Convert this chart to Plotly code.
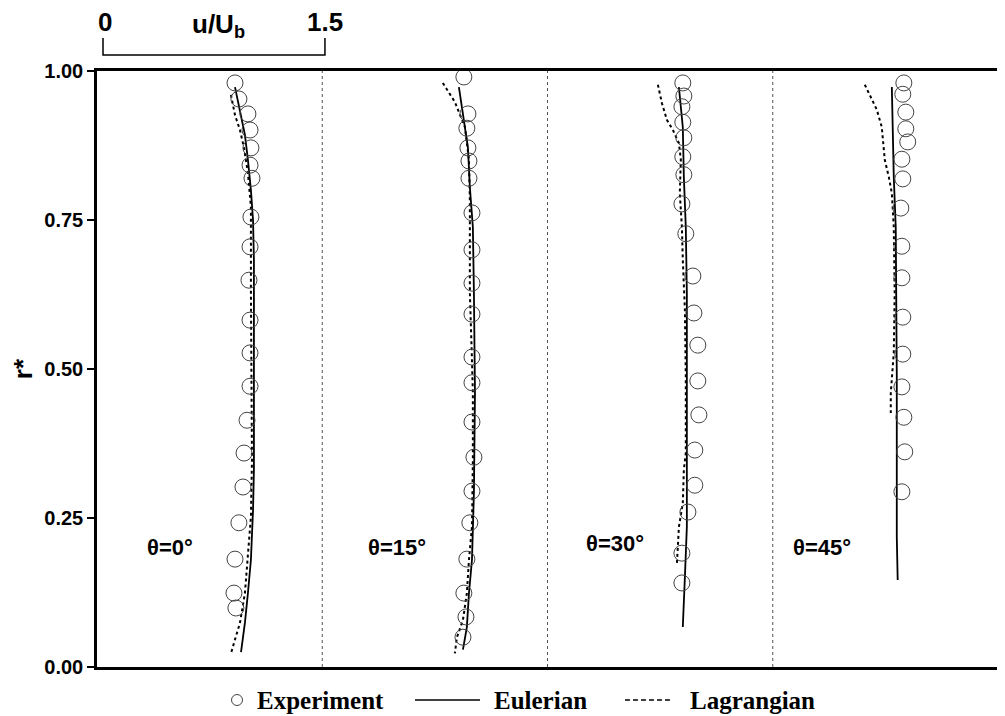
import plotly.graph_objects as go

# Panel labels and angular positions
panels = ["θ=0°", "θ=15°", "θ=30°", "θ=45°"]
panel_width = 1.5  # each panel spans u/Ub from 0 to 1.5

# ---- theta = 0 ----
exp0_u = [0.919, 0.945, 1.005, 1.019, 1.025, 1.019, 1.032, 1.025, 1.019, 1.012,
          1.019, 1.019, 1.019, 0.999, 0.979, 0.972, 0.945, 0.919, 0.912, 0.925]
exp0_r = [0.980, 0.953, 0.928, 0.901, 0.871, 0.842, 0.820, 0.755, 0.705, 0.649,
          0.582, 0.527, 0.471, 0.414, 0.359, 0.302, 0.242, 0.181, 0.124, 0.099]
eul0_u = [0.919, 0.952, 0.985, 1.005, 1.025, 1.039, 1.045, 1.045, 1.045, 1.045,
          1.039, 1.025, 1.005, 0.985, 0.959]
eul0_r = [0.973, 0.935, 0.893, 0.851, 0.800, 0.750, 0.683, 0.582, 0.448, 0.331,
          0.263, 0.180, 0.124, 0.074, 0.025]
lag0_u = [0.892, 0.919, 0.952, 0.979, 1.005, 1.025, 1.025, 1.032, 1.032, 1.025,
          1.005, 0.985, 0.952, 0.892]
lag0_r = [0.960, 0.926, 0.901, 0.871, 0.829, 0.772, 0.628, 0.460, 0.347, 0.252,
          0.180, 0.124, 0.074, 0.023]

# ---- theta = 15 ----
exp15_u = [0.943, 0.970, 0.963, 0.970, 0.977, 0.977, 0.997, 0.997, 0.997, 0.997,
           0.997, 0.997, 0.997, 1.010, 0.997, 0.983, 0.963, 0.943, 0.957, 0.937]
exp15_r = [0.990, 0.928, 0.904, 0.871, 0.849, 0.820, 0.762, 0.700, 0.644, 0.592,
           0.520, 0.477, 0.411, 0.352, 0.295, 0.242, 0.181, 0.124, 0.084, 0.050]
eul15_u = [0.910, 0.937, 0.970, 0.983, 1.003, 1.010, 1.017, 1.010, 1.003, 0.997,
           0.977, 0.963, 0.937]
eul15_r = [0.973, 0.930, 0.872, 0.805, 0.738, 0.628, 0.460, 0.292, 0.235, 0.180,
           0.124, 0.067, 0.029]
lag15_u = [0.803, 0.883, 0.950, 0.977, 0.983, 0.983, 0.997, 1.003, 1.003, 0.997,
           0.977, 0.963, 0.937, 0.897, 0.883]
lag15_r = [0.980, 0.948, 0.906, 0.851, 0.784, 0.628, 0.515, 0.460, 0.347, 0.235,
           0.180, 0.124, 0.079, 0.050, 0.023]

# ---- theta = 30 ----
exp30_u = [0.901, 0.908, 0.895, 0.901, 0.908, 0.901, 0.908, 0.895, 0.921, 0.968,
           0.975, 1.001, 1.001, 1.008, 0.981, 0.981, 0.935, 0.895, 0.895]
exp30_r = [0.980, 0.958, 0.940, 0.914, 0.888, 0.856, 0.826, 0.777, 0.727, 0.656,
           0.594, 0.540, 0.480, 0.423, 0.364, 0.305, 0.260, 0.191, 0.141]
eul30_u = [0.875, 0.901, 0.908, 0.921, 0.928, 0.928, 0.928, 0.928, 0.915, 0.901]
eul30_r = [0.973, 0.906, 0.822, 0.738, 0.628, 0.487, 0.347, 0.235, 0.151, 0.067]
lag30_u = [0.735, 0.762, 0.795, 0.835, 0.875, 0.888, 0.881, 0.895, 0.901, 0.915,
           0.921, 0.921, 0.908, 0.901, 0.875, 0.862]
lag30_r = [0.977, 0.946, 0.918, 0.901, 0.879, 0.851, 0.795, 0.738, 0.683, 0.599,
           0.487, 0.359, 0.331, 0.275, 0.235, 0.174]

# ---- theta = 45 ----
exp45_u = [0.873, 0.866, 0.886, 0.886, 0.899, 0.860, 0.866, 0.853, 0.860, 0.860,
           0.866, 0.866, 0.860, 0.873, 0.879, 0.860]
exp45_r = [0.980, 0.961, 0.931, 0.903, 0.881, 0.852, 0.819, 0.770, 0.706, 0.653,
           0.587, 0.525, 0.470, 0.419, 0.361, 0.294]
eul45_u = [0.793, 0.799, 0.806, 0.819, 0.826, 0.826, 0.832]
eul45_r = [0.973, 0.906, 0.822, 0.738, 0.487, 0.218, 0.146]
lag45_u = [0.613, 0.653, 0.693, 0.726, 0.746, 0.773, 0.793, 0.806, 0.812, 0.806,
           0.793, 0.786, 0.786]
lag45_r = [0.977, 0.956, 0.935, 0.906, 0.851, 0.822, 0.795, 0.738, 0.628, 0.527,
           0.487, 0.460, 0.426]

exp_u = [exp0_u, exp15_u, exp30_u, exp45_u]
exp_r = [exp0_r, exp15_r, exp30_r, exp45_r]
eul_u = [eul0_u, eul15_u, eul30_u, eul45_u]
eul_r = [eul0_r, eul15_r, eul30_r, eul45_r]
lag_u = [lag0_u, lag15_u, lag30_u, lag45_u]
lag_r = [lag0_r, lag15_r, lag30_r, lag45_r]

y_ticks = [0.0, 0.25, 0.5, 0.75, 1.0]
y_ticklabels = ["0.00", "0.25", "0.50", "0.75", "1.00"]

ARIAL = "Arial, Liberation Sans, sans-serif"
TIMES = "Times New Roman, Liberation Serif, serif"

fig = go.Figure()

for i in range(4):
    off = i * panel_width
    fig.add_trace(go.Scatter(
        x=[u + off for u in eul_u[i]], y=eul_r[i], mode="lines",
        line=dict(color="black", width=1.8), name="Eulerian", showlegend=False))
    fig.add_trace(go.Scatter(
        x=[u + off for u in lag_u[i]], y=lag_r[i], mode="lines",
        line=dict(color="black", width=2, dash="3px,3px"), name="Lagrangian",
        showlegend=False))
    fig.add_trace(go.Scatter(
        x=[u + off for u in exp_u[i]], y=exp_r[i], mode="markers",
        marker=dict(symbol="circle-open", size=16, color="#444444",
                    line=dict(width=1, color="#444444")),
        name="Experiment", showlegend=False))

# panel dividers
for i in range(1, 4):
    fig.add_shape(type="line", xref="x", yref="paper",
                  x0=i * panel_width, x1=i * panel_width, y0=0, y1=1,
                  line=dict(color="#555555", width=1, dash="dot"), layer="below")

# panel labels
label_dx = [0.486, 0.497, 0.449, 0.327]
label_y = [0.20, 0.20, 0.208, 0.20]
for i, lab in enumerate(panels):
    fig.add_annotation(x=i * panel_width + label_dx[i], y=label_y[i], xref="x", yref="y",
                       text="<b>" + lab + "</b>", showarrow=False,
                       font=dict(family=ARIAL, size=22, color="black"))

# scale bar
fig.add_shape(type="path", xref="x", yref="paper",
              path="M 0.04,1.0554 L 0.04,1.027 L 1.518,1.027 L 1.518,1.0554",
              line=dict(color="black", width=1.5))
for txt, xpos, ypos in [("<b>0</b>", 0.053, 1.0822), ("<b>1.5</b>", 1.518, 1.0822),
                        ("<b>u/U<sub>b</sub></b>", 0.806, 1.077)]:
    fig.add_annotation(x=xpos, y=ypos, xref="x", yref="paper", text=txt,
                       showarrow=False, yanchor="middle", borderpad=0,
                       font=dict(family=ARIAL, size=26, color="black"))

# manual legend below the plot (paper coordinates)
leg_y = -0.0554
fig.add_shape(type="circle", xref="paper", yref="paper",
              x0=0.1554 - 0.0061, x1=0.1554 + 0.0061,
              y0=leg_y - 0.0092, y1=leg_y + 0.0092,
              line=dict(color="#444444", width=1))
fig.add_shape(type="line", xref="paper", yref="paper",
              x0=0.3529, x1=0.4251, y0=leg_y, y1=leg_y,
              line=dict(color="black", width=1.5))
fig.add_shape(type="line", xref="paper", yref="paper",
              x0=0.586, x1=0.6382, y0=leg_y, y1=leg_y,
              line=dict(color="black", width=1.5, dash="5px,3px"))
for txt, xpos in [("Experiment", 0.1754), ("Eulerian", 0.4384), ("Lagrangian", 0.6559)]:
    fig.add_annotation(x=xpos, y=leg_y, xref="paper", yref="paper",
                       text="<b>" + txt + "</b>", showarrow=False,
                       xanchor="left", yanchor="middle",
                       font=dict(family=TIMES, size=25, color="black"))

# The page body adds an 8px offset; size the figure so the plot area lands
# at the reference pixel positions.
fig.update_layout(
    width=997, height=708,
    margin=dict(l=89, r=7, t=63, b=49, autoexpand=False),
    paper_bgcolor="white", plot_bgcolor="white",
    showlegend=False,
    xaxis=dict(range=[0, 6], showticklabels=False, ticks="", showgrid=False,
               zeroline=False, showline=True, linecolor="black", linewidth=2.5,
               mirror=True, automargin=False),
    yaxis=dict(range=[0, 1], tickvals=y_ticks, ticktext=["<b>" + t + "</b>" for t in y_ticklabels],
               ticks="outside", ticklen=7, tickwidth=1.5, tickcolor="black",
               showgrid=False, zeroline=False, showline=True, linecolor="black",
               linewidth=2.5, mirror=True, automargin=False,
               tickfont=dict(family=ARIAL, size=20, color="black"),
               title=dict(text="<b>r*</b>", standoff=8,
                          font=dict(family=ARIAL, size=26, color="black"))),
)

fig.write_html("out.html")
